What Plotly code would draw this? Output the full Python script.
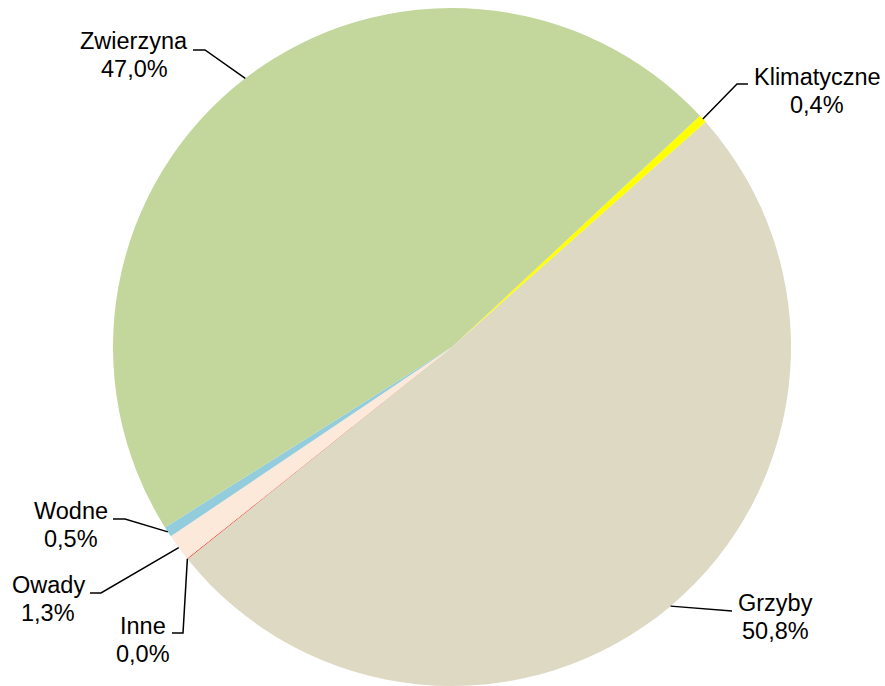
import math
import plotly.graph_objects as go

# dane
labels = ["Klimatyczne", "Grzyby", "Inne", "Owady", "Wodne", "Zwierzyna"]
values = [0.4, 50.8, 0.03, 1.3, 0.5, 47.0]
colors = ["#FFFF00", "#DDD9C3", "#FF0000", "#FDE9D9", "#93CDDD", "#C3D69B"]

W, H = 885, 686
CX, CY, R = 452, 347, 339
ROTATION = 47
LINE_GAP = 27.5

# pozycje etykiet (srodek tekstu, zalamanie linii, koniec linii) w pikselach
label_pos = {
    "Klimatyczne": dict(tx=817, ty=77, elbow=(737, 84), end=(748, 84)),
    "Grzyby": dict(tx=775, ty=603, elbow=(732, 611), end=(732, 611)),
    "Inne": dict(tx=143, ty=626, elbow=(183, 633), end=(172, 633)),
    "Owady": dict(tx=48, ty=585, elbow=(101, 593), end=(90, 593)),
    "Wodne": dict(tx=71, ty=511, elbow=(125, 519), end=(113, 519)),
    "Zwierzyna": dict(tx=134, ty=41, elbow=(205, 50), end=(193, 50)),
}


def px(x):
    return x / W


def py(y):
    return 1 - y / H


fig = go.Figure()

fig.add_trace(go.Pie(
    labels=labels,
    values=values,
    marker=dict(colors=colors, line=dict(width=0)),
    sort=False,
    direction="clockwise",
    rotation=ROTATION,
    textinfo="none",
    hoverinfo="label+percent",
    showlegend=False,
    domain=dict(x=[(CX - 400) / W, (CX + 400) / W], y=[(H - CY - R) / H, (H - CY + R) / H]),
))

total = sum(values)
annotations = []
shapes = []
cum = 0
for lab, v in zip(labels, values):
    mid = ROTATION + (cum + v / 2) / total * 360
    cum += v
    a = math.radians(mid)
    x0 = CX + R * math.sin(a)
    y0 = CY - R * math.cos(a)
    p = label_pos[lab]
    ex, ey = p["elbow"]
    hx, hy = p["end"]
    shapes.append(dict(
        type="path", xref="paper", yref="paper",
        path="M %f,%f L %f,%f L %f,%f" % (px(x0), py(y0), px(ex), py(ey), px(hx), py(hy)),
        line=dict(color="black", width=1.5),
    ))
    lines = [lab, ("%.1f" % v).replace(".", ",") + "%"]
    for i, t in enumerate(lines):
        annotations.append(dict(
            x=px(p["tx"]), y=py(p["ty"] + i * LINE_GAP), xref="paper", yref="paper",
            text=t, showarrow=False, align="center",
            xanchor="center", yanchor="middle",
            font=dict(family="Liberation Sans, Arial", size=23.5, color="black"),
        ))

fig.update_layout(
    width=W, height=H,
    margin=dict(l=0, r=0, t=0, b=0),
    paper_bgcolor="white",
    plot_bgcolor="white",
    annotations=annotations,
    shapes=shapes,
)

fig.write_html("out.html", config={"displayModeBar": False},
               post_script="document.body.style.margin='0';")
